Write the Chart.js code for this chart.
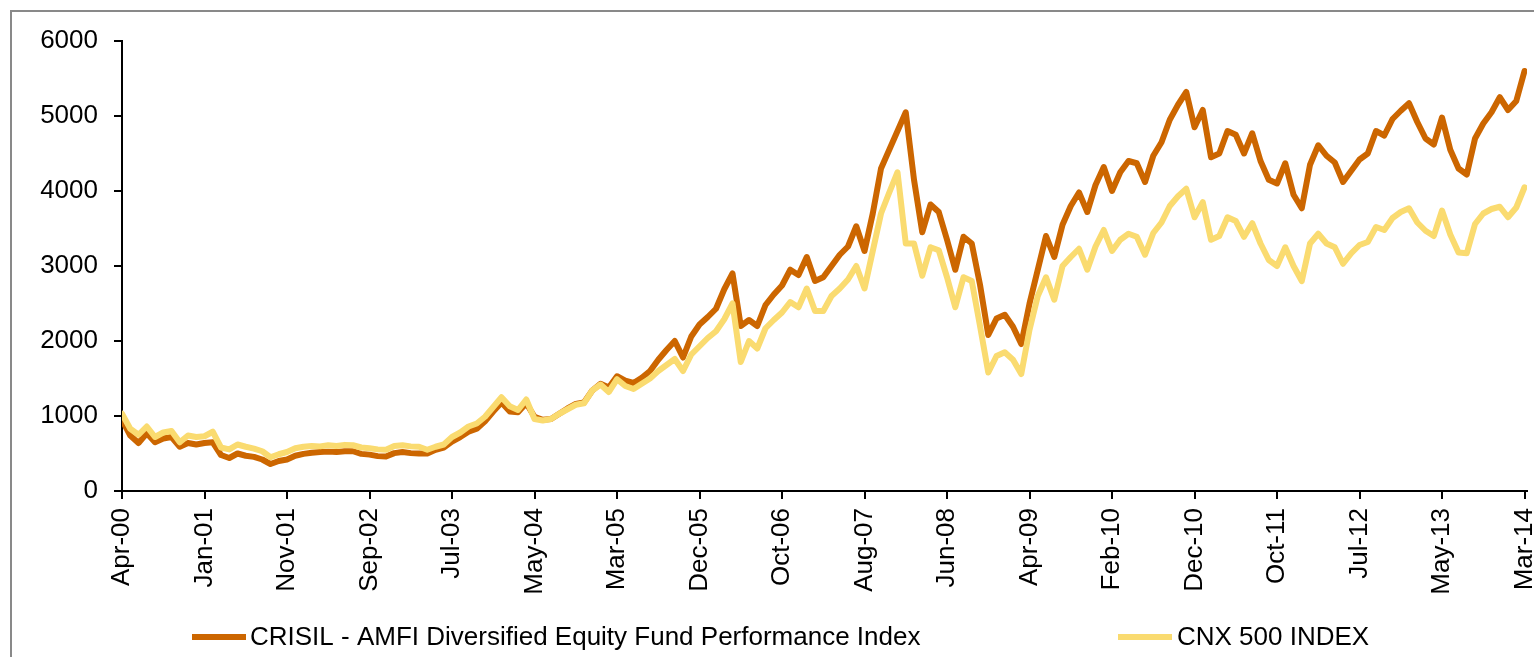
<!DOCTYPE html>
<html>
<head>
<meta charset="utf-8">
<script src="https://cdn.jsdelivr.net/npm/chart.js@4.4.1/dist/chart.umd.min.js"></script>
<style>
html,body{margin:0;padding:0;background:#fff;overflow:hidden}
canvas{display:block}
</style>
</head>
<body>
<canvas id="c" width="1534" height="657" style="width:1534px;height:657px"></canvas>
<script>
// ---- data ----
const tickLabels = ['Apr-00','Jan-01','Nov-01','Sep-02','Jul-03','May-04','Mar-05','Dec-05','Oct-06','Aug-07','Jun-08','Apr-09','Feb-10','Dec-10','Oct-11','Jul-12','May-13','Mar-14'];
const yTicks = [0,1000,2000,3000,4000,5000,6000];
const seriesNames = ['CRISIL - AMFI Diversified Equity Fund Performance Index','CNX 500 INDEX'];
const STEPS_PER_LABEL = 10; // samples between two labelled ticks

const crisil = [
 950,740,640,770,650,700,720,590,640,620,
 640,650,480,440,500,470,455,420,360,400,
 420,470,495,510,520,525,520,530,530,495,
 485,465,460,505,520,505,500,500,550,580,
 660,720,790,830,930,1060,1180,1060,1050,1170,
 990,950,960,1030,1100,1160,1180,1340,1430,1380,
 1530,1470,1440,1510,1600,1750,1880,2000,1780,2060,
 2220,2320,2430,2690,2900,2200,2280,2200,2480,2620,
 2740,2950,2880,3120,2800,2850,3000,3150,3260,3530,
 3200,3700,4300,4550,4800,5050,4150,3450,3820,3720,
 3350,2950,3390,3300,2750,2080,2300,2350,2190,1960,
 2500,2950,3400,3120,3550,3800,3980,3720,4080,4320,
 4000,4250,4400,4370,4120,4470,4650,4950,5150,5320,
 4850,5080,4450,4500,4800,4750,4500,4770,4400,4150,
 4100,4370,3950,3770,4350,4610,4470,4380,4120,4270,
 4420,4500,4800,4740,4960,5070,5170,4920,4700,4620,
 4980,4550,4300,4220,4700,4900,5050,5250,5080,5200,
 5600
];
const cnx = [
 1030,830,750,860,720,780,800,650,740,720,
 730,790,580,555,620,590,565,530,450,490,
 520,570,590,600,595,610,600,615,610,580,
 570,555,550,600,610,595,590,550,590,620,
 720,780,860,900,990,1120,1250,1130,1080,1220,
 960,940,960,1030,1090,1150,1170,1340,1420,1320,
 1490,1400,1360,1430,1500,1600,1680,1760,1600,1820,
 1930,2040,2130,2290,2500,1720,2000,1900,2170,2280,
 2380,2520,2450,2700,2400,2400,2600,2700,2820,3000,
 2700,3200,3700,3980,4250,3300,3300,2870,3250,3210,
 2850,2450,2850,2800,2200,1580,1800,1850,1750,1560,
 2150,2600,2850,2550,3000,3120,3230,2950,3260,3480,
 3200,3350,3430,3390,3150,3440,3580,3800,3930,4030,
 3650,3850,3350,3400,3650,3600,3390,3570,3300,3080,
 3000,3250,3000,2800,3300,3430,3300,3250,3030,3170,
 3280,3320,3520,3480,3640,3720,3770,3580,3470,3400,
 3740,3420,3180,3170,3560,3700,3760,3790,3650,3780,
 4050
];

// ---- styling ----
const FONT = {family: '"Liberation Sans", Arial, sans-serif', size: 26};
const ORANGE = '#CC6600';
const YELLOW = '#FADB70';

const toPoints = arr => arr.map((v, i) => ({x: i / STEPS_PER_LABEL, y: v}));

const framePlugin = {
  id: 'frame',
  beforeDraw(chart) {
    const ctx = chart.ctx;
    ctx.save();
    ctx.fillStyle = '#fff';
    ctx.fillRect(0, 0, chart.width, chart.height);
    ctx.strokeStyle = '#898989';
    ctx.lineWidth = 2;
    ctx.strokeRect(11, 11, chart.width + 50, chart.height + 50);
    ctx.restore();
  }
};

const legendPlugin = {
  id: 'customLegend',
  afterDraw(chart) {
    const ctx = chart.ctx;
    const items = [
      {ds: chart.data.datasets[0], x0: 192, x1: 246, tx: 250},
      {ds: chart.data.datasets[1], x0: 1118, x1: 1172, tx: 1177}
    ];
    const y = 637;
    ctx.save();
    items.forEach(it => {
      ctx.strokeStyle = it.ds.borderColor;
      ctx.lineWidth = 6;
      ctx.lineCap = 'butt';
      ctx.beginPath();
      ctx.moveTo(it.x0, y);
      ctx.lineTo(it.x1, y);
      ctx.stroke();
      ctx.fillStyle = '#000';
      ctx.font = `${FONT.size}px ${FONT.family}`;
      ctx.textBaseline = 'middle';
      ctx.textAlign = 'left';
      ctx.fillText(it.ds.label, it.tx, y + 1);
    });
    ctx.restore();
  }
};

const axisCommon = {
  grid: {drawOnChartArea: false, drawTicks: true, tickLength: 8, color: '#000', lineWidth: 2},
  border: {display: true, color: '#000', width: 2}
};

new Chart(document.getElementById('c'), {
  type: 'line',
  data: {
    datasets: [
      {label: seriesNames[0], data: toPoints(crisil), borderColor: ORANGE, backgroundColor: ORANGE, borderWidth: 6, order: 1},
      {label: seriesNames[1], data: toPoints(cnx), borderColor: YELLOW, backgroundColor: YELLOW, borderWidth: 6, order: 0}
    ]
  },
  options: {
    responsive: false,
    devicePixelRatio: 1,
    animation: false,
    events: [],
    layout: {padding: {top: 41, right: 7, bottom: 0, left: 0}},
    elements: {
      point: {radius: 0},
      line: {tension: 0, borderJoinStyle: 'round', borderCapStyle: 'round'}
    },
    plugins: {legend: {display: false}, tooltip: {enabled: false}},
    scales: {
      x: {
        type: 'linear', min: 0, max: 17.03,
        afterBuildTicks: s => { s.ticks = tickLabels.map((_, k) => ({value: k})); },
        ticks: {autoSkip: false, minRotation: 90, maxRotation: 90, padding: 9, color: '#000', font: FONT,
          callback: (v, idx) => tickLabels[idx]},
        ...axisCommon,
        afterFit: s => { s.height = 166; s.paddingLeft = 0; s.paddingRight = 0; }
      },
      y: {
        min: 0, max: 6000,
        afterBuildTicks: s => { s.ticks = yTicks.map(v => ({value: v})); },
        ticks: {padding: 16, color: '#000', font: FONT, callback: v => String(v)},
        ...axisCommon,
        afterFit: s => { s.width = 122; s.paddingTop = 0; s.paddingBottom = 0; }
      }
    }
  },
  plugins: [framePlugin, legendPlugin]
});
</script>
</body>
</html>
